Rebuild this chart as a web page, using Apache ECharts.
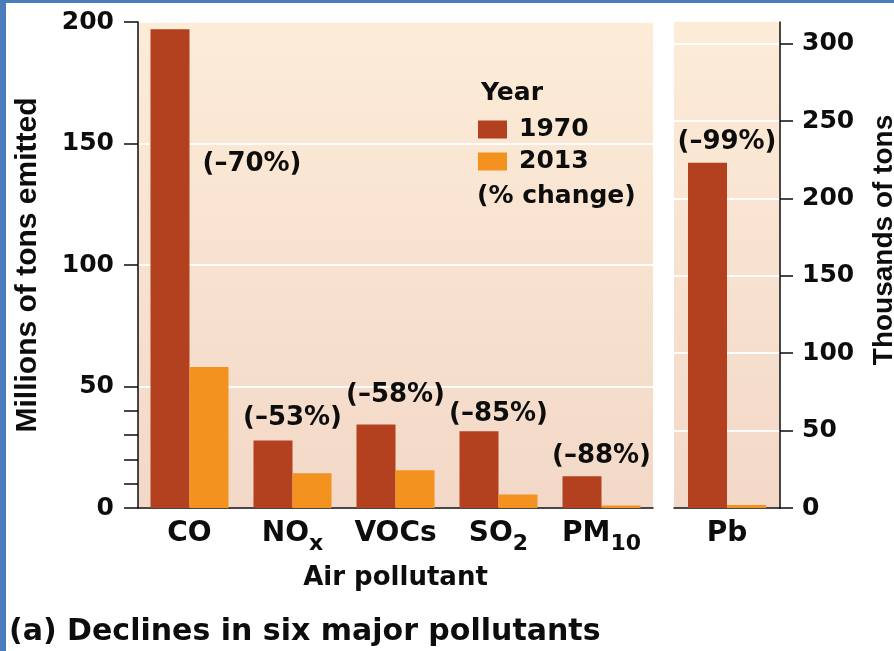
<!DOCTYPE html>
<html>
<head>
<meta charset="utf-8">
<title>Declines in six major pollutants</title>
<script src="https://cdn.jsdelivr.net/npm/echarts@6/dist/echarts.min.js"></script>
<style>
  html, body { margin: 0; padding: 0; background: #fff; }
  #wrap { position: relative; width: 894px; height: 651px; overflow: hidden; }
  #main { width: 894px; height: 651px; }
  .edge { position: absolute; background: #4a7ebb; }
</style>
</head>
<body>
<div id="wrap">
  <div id="main"></div>
  <div class="edge" style="left:0;top:0;width:6px;height:651px"></div>
  <div class="edge" style="left:0;top:0;width:894px;height:3px"></div>
</div>
<script>
// values
const pollutants = ['CO', 'NOx', 'VOCs', 'SO2', 'PM10'];
const emit1970 = [197, 27.8, 34.4, 31.6, 13.1]; // millions of tons
const emit2013 = [58, 14.3, 15.5, 5.6, 1.0];
const pctChange = [-70, -53, -58, -85, -88];

const leadCat = ['Pb'];
const lead1970 = [223]; // thousands of tons
const lead2013 = [2];
const leadPct = [-99];

const rightTicks = [0, 50, 100, 150, 200, 250, 300];

const FONT = '"DejaVu Sans", sans-serif';
const RUST = '#b3411f';
const ORANGE = '#f3921f';
const INK = '#0d0d0d';
const txt = { color: INK, fontFamily: FONT, fontWeight: 'bold' };

// subscripts in the category names
const subLabel = {
  NOx: '{m|NO}{s|x}',
  SO2: '{m|SO}{s|2}',
  PM10: '{m|PM}{s|10}'
};
function catLabel(v) {
  return subLabel[v] || '{m|' + v + '}';
}
function pctText(p) {
  return '(\u2013' + Math.abs(p) + '%)';
}

const catRich = {
  m: { ...txt, fontSize: 28, lineHeight: 42 },
  s: { ...txt, fontSize: 22, lineHeight: 22, padding: [20, 0, 0, 0] }
};

const bgFill = {
  type: 'linear', x: 0, y: 0, x2: 0, y2: 1,
  colorStops: [
    { offset: 0, color: '#fcecd8' },
    { offset: 1, color: '#f3d8c7' }
  ]
};

const blackLine = { color: INK, width: 1.5 };
const whiteGrid = { color: 'rgba(255,255,255,0.9)', width: 2 };

// how far each % label sits above its bars (CO is placed beside the bar)
const labelGap = [0, 9, 16, 4, 7];

function pctLabel(i) {
  if (i === 0) {
    return { show: true, position: [52, 122], formatter: pctText(pctChange[0]) };
  }
  return {
    show: true,
    position: 'top',
    distance: labelGap[i],
    offset: [19.5, 0],
    formatter: pctText(pctChange[i])
  };
}

const chart = echarts.init(document.getElementById('main'));

const option = {
  animation: false,
  title: {
    text: '(a) Declines in six major pollutants',
    left: 9,
    top: 617,
    padding: 0,
    textStyle: { ...txt, fontSize: 30 }
  },
  legend: {
    data: ['1970', '2013'],
    orient: 'vertical',
    left: 478,
    top: 117,
    padding: 0,
    itemWidth: 29,
    itemHeight: 18,
    itemGap: 7,
    icon: 'rect',
    selectedMode: false,
    textStyle: { ...txt, fontSize: 25, padding: [0, 0, 0, 7] }
  },
  graphic: [
    {
      type: 'text', left: 481, top: 81,
      style: { text: 'Year', fill: INK, font: 'bold 25px "DejaVu Sans"' }
    },
    {
      type: 'text', left: 477, top: 184,
      style: { text: '(% change)', fill: INK, font: 'bold 25px "DejaVu Sans"' }
    },
    {
      type: 'text', x: 884, y: 240, rotation: Math.PI / 2,
      style: {
        text: 'Thousands of tons', fill: INK,
        font: 'bold 28px "Liberation Sans"',
        align: 'center', verticalAlign: 'middle'
      }
    }
  ],
  grid: [
    { left: 138, top: 22, width: 515, height: 486, show: true, backgroundColor: bgFill, borderWidth: 0 },
    { left: 674, top: 22, width: 106, height: 486, show: true, backgroundColor: bgFill, borderWidth: 0 },
    // minor ticks between 0 and 50 only
    { left: 138, top: 386.5, width: 515, height: 121.5 }
  ],
  xAxis: [
    {
      gridIndex: 0,
      type: 'category',
      data: pollutants,
      axisLine: { lineStyle: blackLine },
      axisTick: { show: false },
      axisLabel: { formatter: catLabel, margin: 5, rich: catRich },
      name: 'Air pollutant',
      nameLocation: 'middle',
      nameGap: 57,
      nameTextStyle: { ...txt, fontSize: 26 }
    },
    {
      gridIndex: 1,
      type: 'category',
      data: leadCat,
      axisLine: { lineStyle: blackLine },
      axisTick: { show: false },
      axisLabel: { formatter: catLabel, margin: 5, rich: catRich }
    },
    { gridIndex: 2, type: 'value', show: false }
  ],
  yAxis: [
    {
      gridIndex: 0,
      type: 'value',
      min: 0,
      max: 200,
      interval: 50,
      axisLine: { show: true, lineStyle: blackLine },
      axisTick: { show: true, length: 14, lineStyle: blackLine },
      axisLabel: { ...txt, fontSize: 25, margin: 24 },
      splitLine: { lineStyle: whiteGrid },
      name: 'Millions of tons emitted',
      nameLocation: 'middle',
      nameGap: 95,
      nameTextStyle: {
        color: INK,
        fontFamily: '"Liberation Sans", Arial, sans-serif',
        fontWeight: 'bold',
        fontSize: 30
      }
    },
    {
      gridIndex: 1,
      type: 'value',
      position: 'right',
      min: 0,
      max: 314,
      interval: 50,
      axisLine: { show: true, lineStyle: blackLine },
      axisTick: { show: true, length: 13, lineStyle: blackLine, customValues: rightTicks },
      axisLabel: { ...txt, fontSize: 25, margin: 22, customValues: rightTicks },
      splitLine: { lineStyle: whiteGrid }
    },
    {
      gridIndex: 2,
      type: 'value',
      min: 0,
      max: 50,
      interval: 10,
      axisLine: { show: false },
      axisTick: { show: true, length: 14, lineStyle: blackLine },
      axisLabel: { show: false },
      splitLine: { show: false }
    }
  ],
  series: [
    {
      name: '1970',
      type: 'bar',
      xAxisIndex: 0,
      yAxisIndex: 0,
      barWidth: 39,
      barGap: '0%',
      itemStyle: { color: RUST },
      label: { ...txt, fontSize: 26 },
      data: emit1970.map((v, i) => ({ value: v, label: pctLabel(i) }))
    },
    {
      name: '2013',
      type: 'bar',
      xAxisIndex: 0,
      yAxisIndex: 0,
      barWidth: 39,
      barGap: '0%',
      itemStyle: { color: ORANGE },
      data: emit2013
    },
    {
      name: '1970',
      type: 'bar',
      xAxisIndex: 1,
      yAxisIndex: 1,
      barWidth: 39,
      barGap: '0%',
      itemStyle: { color: RUST },
      label: { ...txt, fontSize: 26 },
      data: lead1970.map((v, i) => ({
        value: v,
        label: { show: true, position: 'top', distance: 8, offset: [19.5, 0], formatter: pctText(leadPct[i]) }
      }))
    },
    {
      name: '2013',
      type: 'bar',
      xAxisIndex: 1,
      yAxisIndex: 1,
      barWidth: 39,
      barGap: '0%',
      itemStyle: { color: ORANGE },
      data: lead2013
    }
  ]
};

chart.setOption(option);
</script>
</body>
</html>
